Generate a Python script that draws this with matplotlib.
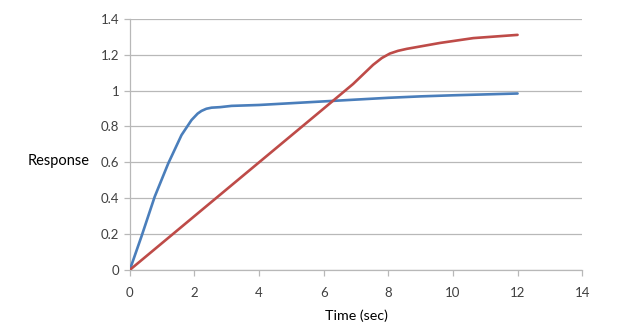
import matplotlib.pyplot as plt
import numpy as np

# step response readings
time_blue = [0, 0.36, 0.77, 1.19, 1.6, 1.91, 2.1, 2.22, 2.37, 2.53, 2.8, 3.15,
             4, 5, 6, 7, 8, 9, 10, 11, 12]
resp_blue = [0, 0.186, 0.408, 0.594, 0.752, 0.836, 0.872, 0.887, 0.899, 0.905,
             0.908, 0.915, 0.92, 0.93, 0.94, 0.95, 0.96, 0.968, 0.974, 0.979, 0.984]

time_red = [0, 2, 4, 6, 6.91, 7.53, 7.8, 8.05, 8.3, 8.57, 9.6, 10.63, 12]
resp_red = [0, 0.3, 0.6, 0.9, 1.037, 1.144, 1.182, 1.207, 1.222, 1.233, 1.266,
            1.293, 1.311]

x_ticks = [0, 2, 4, 6, 8, 10, 12, 14]
y_ticks = [0, 0.2, 0.4, 0.6, 0.8, 1, 1.2, 1.4]
y_tick_labels = ["0", "0.2", "0.4", "0.6", "0.8", "1", "1.2", "1.4"]

plt.rcParams["font.family"] = ["Lato", "DejaVu Sans"]

fig = plt.figure(figsize=(6.24, 3.32), dpi=100)
ax = fig.add_axes([0.208, 0.187, 0.725, 0.756])

ax.plot(time_blue, resp_blue, color="#4A7EBB", lw=1.9, solid_joinstyle="round",
        solid_capstyle="round", zorder=3)
ax.plot(time_red, resp_red, color="#BE4B48", lw=1.9, solid_joinstyle="round",
        solid_capstyle="round", zorder=3)

ax.set_xlim(0, 14)
ax.set_ylim(0, 1.4)
ax.set_xticks(x_ticks)
ax.set_yticks(y_ticks)
ax.set_yticklabels(y_tick_labels)

ax.grid(axis="y", color="#B8B8B8", lw=0.9)
ax.set_axisbelow(True)
for side in ["top", "right"]:
    ax.spines[side].set_visible(False)
for side in ["left", "bottom"]:
    ax.spines[side].set_color("#B8B8B8")
    ax.spines[side].set_linewidth(0.9)
ax.tick_params(colors="#B8B8B8", labelcolor="#404040", labelsize=9.5,
               length=4, width=0.9)
ax.tick_params(axis="x", pad=8)

ax.set_xlabel("Time (sec)", fontsize=10.3, color="black", labelpad=8)
ax.set_ylabel("Response", fontsize=10.5, color="black", rotation=0,
              ha="right", va="center")
ax.yaxis.set_label_coords(-0.088, 0.435)

fig.savefig("out.png", dpi=100)
